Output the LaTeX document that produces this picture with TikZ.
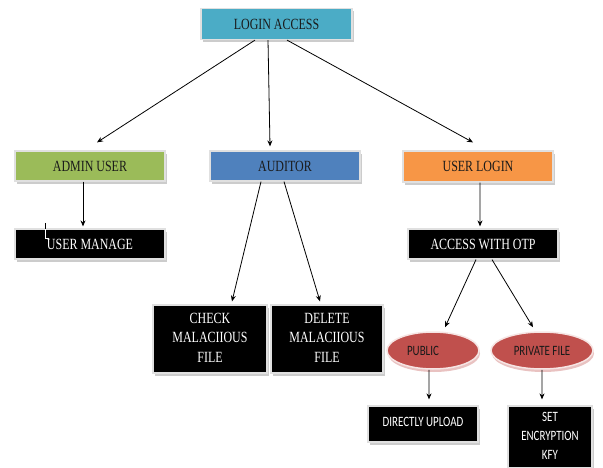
\documentclass[tikz,border=0pt]{standalone}
\usepackage{fontspec}
\usepackage{graphicx}
\setmainfont{Liberation Serif}
\newfontfamily\calib{Carlito}
\usetikzlibrary{arrows.meta,shapes.geometric,shadows}
\definecolor{cteal}{HTML}{4BACC6}
\definecolor{cgreen}{HTML}{9BBB59}
\definecolor{cblue}{HTML}{4F81BD}
\definecolor{corange}{HTML}{F79646}
\definecolor{cred}{HTML}{C0504D}
\definecolor{ctext}{HTML}{1A1A1A}
\newcommand\vs[1]{\scalebox{1}[1.3]{#1}}
\newcommand\ml[1]{\vs{\begin{tabular}{@{}c@{}}#1\end{tabular}}}
\tikzset{
  box/.style={rectangle, inner sep=0pt, draw=white!88!black, line width=1.2bp,
    font=\fontsize{12}{15.4}\selectfont, text=ctext,
    drop shadow={shadow xshift=2bp, shadow yshift=-3bp, fill=black!20, opacity=1}},
  dark/.style={box, fill=black, text=white},
  sbox/.style={dark, font=\calib\fontsize{11}{14.6}\selectfont},
  oval/.style={ellipse, inner sep=0pt, fill=cred, draw=white!85!cred, line width=1.5bp,
    font=\calib\fontsize{11}{14}\selectfont, text=ctext,
    drop shadow={shadow xshift=1bp, shadow yshift=-3bp, fill=cred!35, opacity=1}},
  arr/.style={draw=black, line width=0.8bp, -{Stealth[length=6bp,width=5bp]}}
}
\begin{document}
\begin{tikzpicture}[x=1bp,y=-1bp]
\useasboundingbox[fill=white] (0,0) rectangle (603,468);
\node[box, fill=cteal, minimum width=151bp, minimum height=31bp] (login) at (276.5,24) {\vs{LOGIN ACCESS}};
\node[box, fill=cgreen, minimum width=150bp, minimum height=30bp] (admin) at (90,166) {\vs{ADMIN USER}};
\node[box, fill=cblue, minimum width=150bp, minimum height=30bp] (auditor) at (285,166) {\vs{AUDITOR}};
\node[box, fill=corange, minimum width=150bp, minimum height=31bp] (ulogin) at (478,166.5) {\vs{USER LOGIN}};
\node[dark, minimum width=150bp, minimum height=30bp] (umanage) at (90,244) {\vs{USER MANAGE}};
\node[dark, minimum width=150bp, minimum height=30bp] (otp) at (483,244) {\vs{ACCESS WITH OTP}};
\node[dark, minimum width=114bp, minimum height=68bp] (check) at (210,339) {\ml{CHECK\\MALACIIOUS\\FILE}};
\node[dark, minimum width=112bp, minimum height=68bp] (delete) at (327,339) {\ml{DELETE\\MALACIIOUS\\FILE}};
\node[oval, minimum width=92bp, minimum height=37bp] (public) at (433,350.5) {\vs{\kern-20bp PUBLIC}};
\node[oval, minimum width=102bp, minimum height=37bp] (private) at (542,350.5) {\vs{PRIVATE FILE}};
\node[sbox, minimum width=110bp, minimum height=36bp] (direct) at (423,424) {\raisebox{4bp}{\vs{DIRECTLY UPLOAD}}};
\node[sbox, minimum width=84bp, minimum height=62bp] (setenc) at (550,437) {\ml{SET\\ENCRYPTION\\KFY}};
% stray mark
\coordinate (m1) at (45,223);
\coordinate (m2) at (45,229);
\coordinate (m3) at (45,238);
\coordinate (m4) at (48.5,238);
\draw[black, line width=0.7bp] (m1) -- (m2);
\draw[white, line width=0.7bp] (m2) -- (m3) -- (m4);
% connectors
\draw[arr] ([xshift=-21.5bp]login.south) -- ([xshift=7bp,yshift=8bp]admin.north);
\draw[arr] ([xshift=-8.5bp]login.south) -- ([xshift=-15bp,yshift=4bp]auditor.north);
\draw[arr] ([xshift=10.5bp]login.south) -- ([xshift=-5bp,yshift=8bp]ulogin.north);
\draw[arr] ([xshift=-7bp]admin.south) -- ([xshift=-7bp,yshift=2bp]umanage.north);
\draw[arr] ([xshift=-24bp]auditor.south) -- ([xshift=22bp,yshift=3bp]check.north);
\draw[arr] ([xshift=-1bp]auditor.south) -- ([xshift=-7bp,yshift=3bp]delete.north);
\draw[arr] ([xshift=2bp]ulogin.south) -- ([xshift=-3bp,yshift=2bp]otp.north);
\draw[arr] ([xshift=-7bp]otp.south) -- ([xshift=12bp,yshift=4bp]public.north);
\draw[arr] ([xshift=9bp]otp.south) -- ([xshift=-9bp,yshift=4bp]private.north);
\draw[arr] ([xshift=-4bp]public.south) -- ([xshift=6bp,yshift=6bp]direct.north);
\draw[arr] (private.south) -- ([xshift=-8bp,yshift=6bp]setenc.north);
\end{tikzpicture}
\end{document}
